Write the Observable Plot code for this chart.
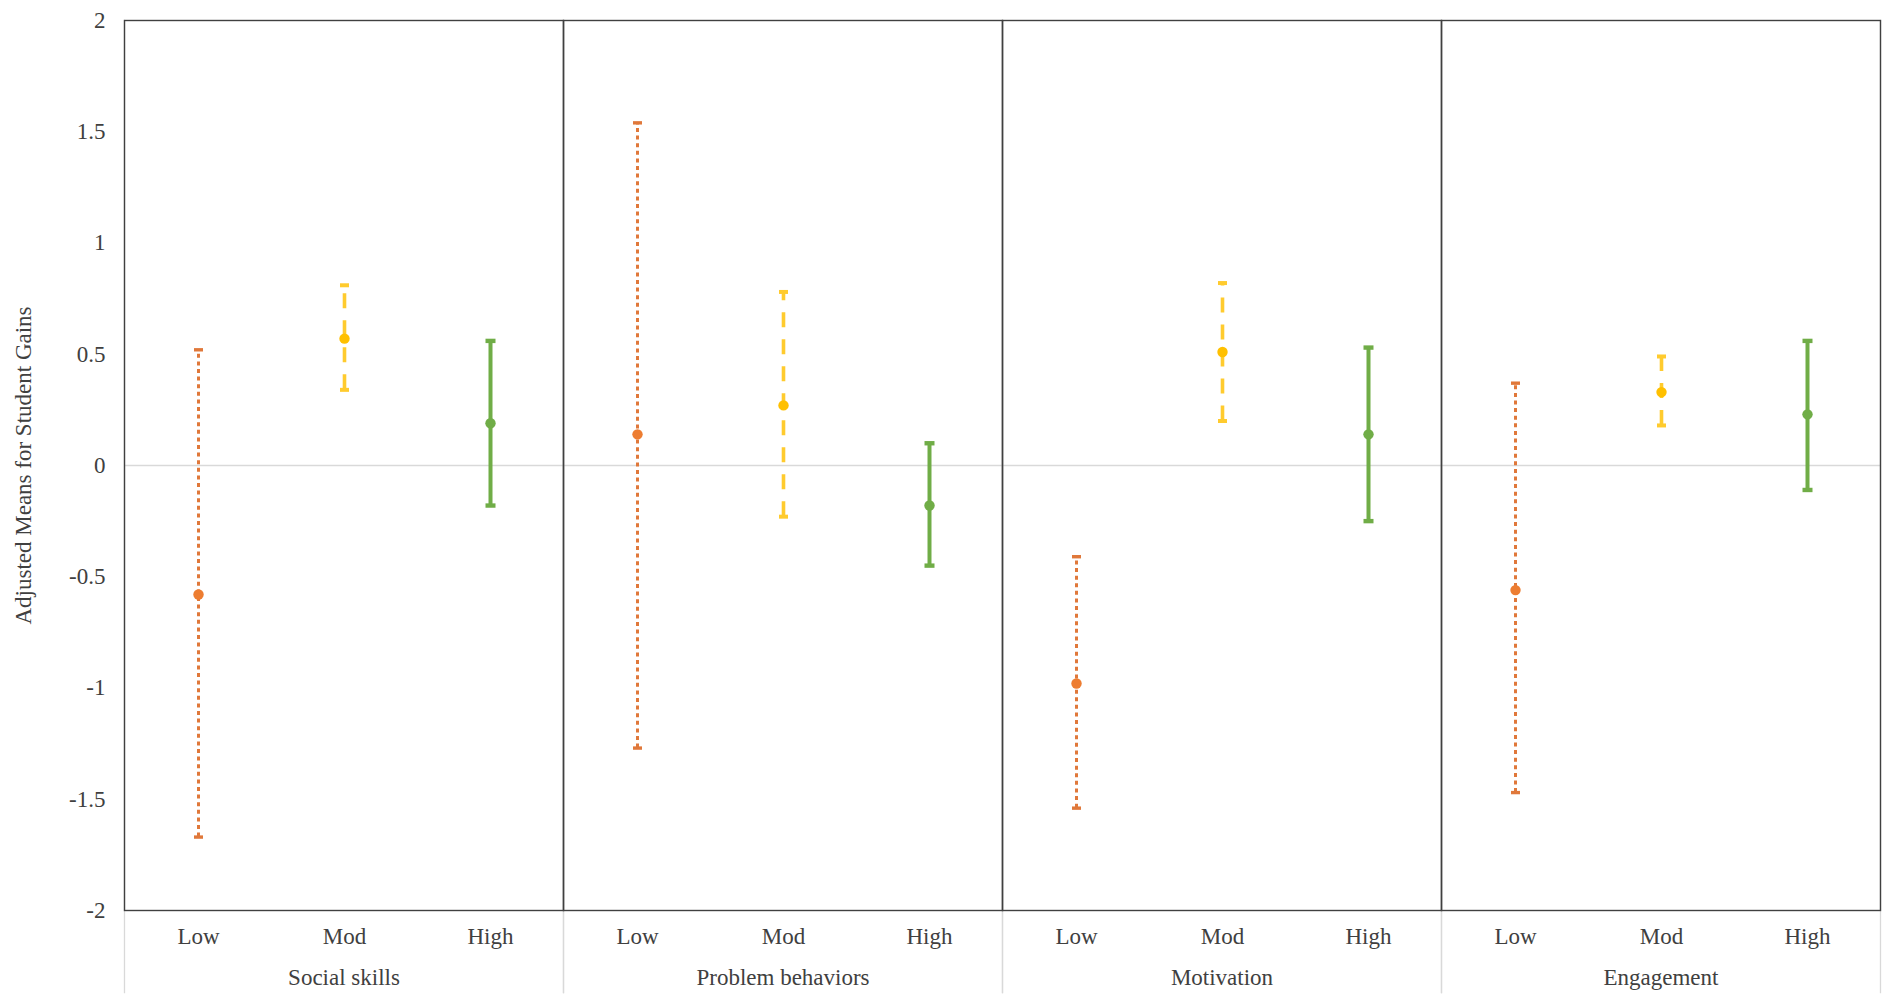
<!DOCTYPE html>
<html>
<head>
<meta charset="utf-8">
<script src="https://cdn.jsdelivr.net/npm/d3@7"></script>
<script src="https://cdn.jsdelivr.net/npm/@observablehq/plot@0.6"></script>
<style>
  html, body { margin: 0; padding: 0; background: #fff; overflow: hidden; }
  #chart svg { display: block; }
</style>
</head>
<body>
<div id="chart"></div>
<script>
// ---- data ----
const groups = ["Social skills", "Problem behaviors", "Motivation", "Engagement"];
const levels = ["Low", "Mod", "High"];
const yTicks = [-2, -1.5, -1, -0.5, 0, 0.5, 1, 1.5, 2];

const lowMean  = [-0.58,  0.14, -0.98, -0.56];
const lowLo    = [-1.67, -1.27, -1.54, -1.47];
const lowHi    = [ 0.52,  1.54, -0.41,  0.37];

const modMean  = [ 0.57,  0.27,  0.51,  0.33];
const modLo    = [ 0.34, -0.23,  0.20,  0.18];
const modHi    = [ 0.81,  0.78,  0.82,  0.49];

const highMean = [ 0.19, -0.18,  0.14,  0.23];
const highLo   = [-0.18, -0.45, -0.25, -0.11];
const highHi   = [ 0.56,  0.10,  0.53,  0.56];

const series = {
  Low:  {mean: lowMean,  lo: lowLo,  hi: lowHi},
  Mod:  {mean: modMean,  lo: modLo,  hi: modHi},
  High: {mean: highMean, lo: highLo, hi: highHi}
};

const rows = [];
groups.forEach((g, i) => {
  levels.forEach(l => {
    rows.push({group: g, level: l, mean: series[l].mean[i], lo: series[l].lo[i], hi: series[l].hi[i]});
  });
});

// ---- styles ----
const style = {
  Low:  {dot: "#ED7D31", line: "#E0783A", width: 3, dash: "4,3.6", cap: 4.5},
  Mod:  {dot: "#FFC000", line: "#FFCB2E", width: 3.6, dash: "15,12", cap: 4.5},
  High: {dot: "#70AD47", line: "#70AD47", width: 4, dash: null, cap: 5}
};

// horizontal-line symbol for error-bar caps
const capSymbol = {
  draw(ctx, size) {
    const h = Math.sqrt(size / Math.PI);
    ctx.moveTo(-h, 0);
    ctx.lineTo(h, 0);
  }
};

const barMarks = levels.flatMap(l => {
  const s = style[l];
  const data = rows.filter(d => d.level === l);
  return [
    Plot.ruleX(data, {fx: "group", x: "level", y1: "lo", y2: "hi",
      stroke: s.line, strokeWidth: s.width, strokeDasharray: s.dash}),
    Plot.dot(data, {fx: "group", x: "level", y: "hi", symbol: capSymbol, r: s.cap,
      fill: "none", stroke: s.line, strokeWidth: s.width + 0.4}),
    Plot.dot(data, {fx: "group", x: "level", y: "lo", symbol: capSymbol, r: s.cap,
      fill: "none", stroke: s.line, strokeWidth: s.width + 0.4}),
    Plot.dot(data, {fx: "group", x: "level", y: "mean", r: 5.2, fill: s.dot, stroke: "none"})
  ];
});

const chart = Plot.plot({
  width: 1902,
  height: 1005,
  marginLeft: 122,
  marginRight: 21,
  marginTop: 20,
  marginBottom: 95,
  style: {fontFamily: "'Liberation Serif', 'Times New Roman', serif", fontSize: "23px", color: "#404040", background: "#fff"},
  fx: {domain: groups, padding: 0, axis: null},
  x: {type: "point", domain: levels, padding: 0.5, axis: null},
  y: {domain: [-2, 2], axis: null},
  marks: [
    Plot.ruleY([0], {stroke: "#d9d9d9", strokeWidth: 1.5}),
    Plot.frame({anchor: "left", stroke: "#d9d9d9", strokeWidth: 1.3, insetBottom: -82}),
    Plot.frame({anchor: "right", stroke: "#d9d9d9", strokeWidth: 1.3, insetBottom: -82}),
    ...barMarks,
    Plot.frame({stroke: "#404040", strokeWidth: 1.4}),
    Plot.axisY({ticks: yTicks, tickSize: 0, tickPadding: 19, fontSize: 23,
      tickFormat: d => String(d),
      label: "Adjusted Means for Student Gains", labelAnchor: "center", labelArrow: "none", labelOffset: 110}),
    Plot.axisX({anchor: "bottom", tickSize: 0, tickPadding: 17, fontSize: 23, label: null}),
    Plot.axisFx({anchor: "bottom", tickSize: 0, tickPadding: 58, fontSize: 23, label: null})
  ]
});

document.getElementById("chart").appendChild(chart);
</script>
</body>
</html>
